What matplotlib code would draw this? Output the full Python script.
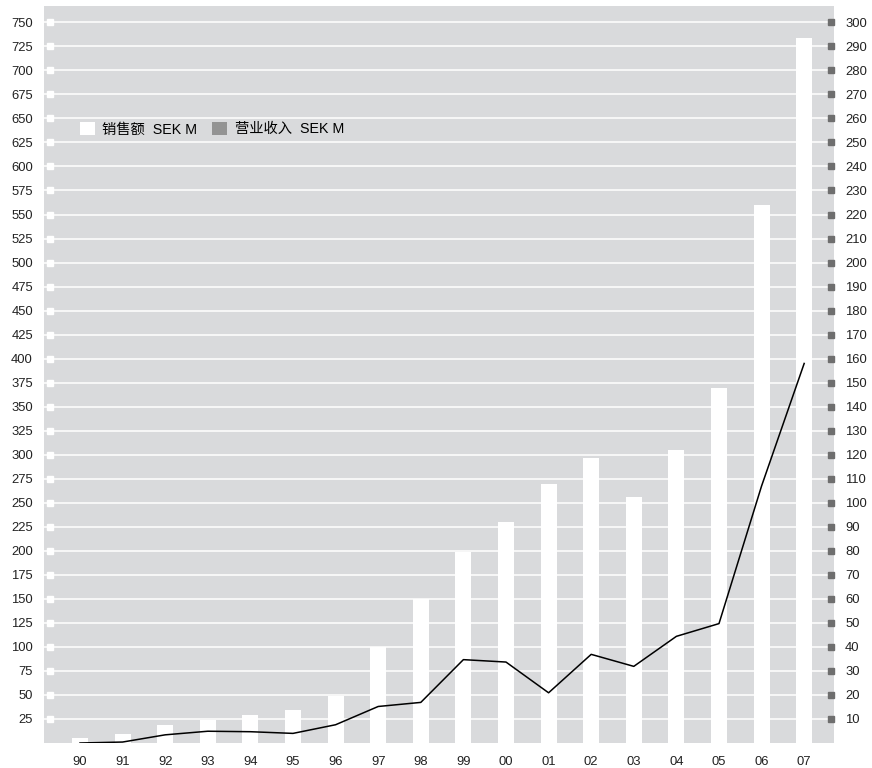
import matplotlib
matplotlib.use("Agg")
import matplotlib.pyplot as plt
from matplotlib.patches import Patch

years = ["90", "91", "92", "93", "94", "95", "96", "97", "98", "99",
         "00", "01", "02", "03", "04", "05", "06", "07"]
sales = [5, 9, 19, 24, 29, 34, 49, 100, 150, 199, 230, 270, 297, 256, 305, 369, 560, 734]
income = [0, 0.4, 3.4, 4.9, 4.7, 4.0, 7.6, 15.2, 16.9, 34.7, 33.7, 20.9, 36.9, 31.9, 44.4, 49.7, 107, 158]
left_ticks = list(range(25, 751, 25))
right_ticks = list(range(10, 301, 10))
legend_labels = ["销售额  SEK M", "营业收入  SEK M"]

plt.rcParams['font.family'] = ['Liberation Sans', 'Noto Sans CJK SC', 'DejaVu Sans']

BG = '#d9dadc'
TICK_FS = 9.4
fig = plt.figure(figsize=(8.72, 7.68), dpi=100)
ax = fig.add_axes([44/872, 25/768, 790/872, 737/768])
ax.set_facecolor(BG)
ax2 = ax.twinx()

x = list(range(len(years)))
ax.bar(x, sales, width=0.376, color='white', zorder=3)
ax.set_xlim(-0.845, len(years) - 1 + 0.70)
ax.set_ylim(0, 767)
ax2.set_ylim(0, 767 / 2.5)

ax.set_yticks(left_ticks)
ax.set_yticklabels([str(t) for t in left_ticks])
ax.yaxis.grid(True, color='white', lw=1.1, zorder=1)
ax.set_axisbelow(True)
ax.tick_params(axis='y', length=0, pad=8, labelsize=TICK_FS, labelcolor='#222222')
ax.set_xticks(x)
ax.set_xticklabels(years)
ax.tick_params(axis='x', length=0, pad=9.5, labelsize=TICK_FS, labelcolor='#222222')

ax2.set_yticks(right_ticks)
ax2.set_yticklabels([str(t) for t in right_ticks])
ax2.tick_params(axis='y', length=0, pad=8, labelsize=TICK_FS, labelcolor='#222222')

for a in (ax, ax2):
    for s in a.spines.values():
        s.set_visible(False)

# tick squares
ax.plot([0.0076] * len(left_ticks), left_ticks, 's', color='white', ms=4.3,
        transform=ax.get_yaxis_transform(), clip_on=False, zorder=4)
ax2.plot([0.9956] * len(right_ticks), right_ticks, 's', color='#6e6e6e', ms=4.3,
         transform=ax2.get_yaxis_transform(), clip_on=False, zorder=4)

ax2.plot(x, income, color='black', lw=1.1, zorder=5)

handles = [Patch(facecolor='white', edgecolor='none'),
           Patch(facecolor='#939393', edgecolor='none')]
ax.legend(handles, legend_labels, loc='center left', bbox_to_anchor=(0.045, 0.833),
          ncol=2, frameon=False, fontsize=10.3, handlelength=1.1, handleheight=1.1,
          handletextpad=0.5, columnspacing=1.0, borderpad=0, borderaxespad=0)

fig.savefig('out.png', dpi=100, facecolor='white')
